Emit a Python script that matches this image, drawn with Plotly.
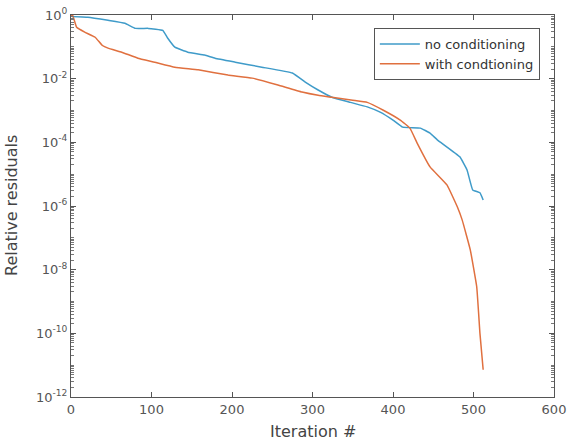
import plotly.graph_objects as go

# no conditioning
iter_blue = [0, 1, 21, 46, 67, 80, 96, 114, 120, 129, 145, 166, 179, 204, 237, 275, 291, 307, 324,
             347, 368, 384, 400, 412, 434, 446, 455, 483, 492, 499, 508, 512]
res_blue = [1.0, 0.91, 0.85, 0.68, 0.55, 0.38, 0.38, 0.33, 0.19, 0.098, 0.068, 0.055, 0.044, 0.033,
            0.023, 0.015, 0.0078, 0.0044, 0.0026, 0.0018, 0.0013, 8.9e-4, 5.0e-4, 3.0e-4, 2.8e-4,
            1.95e-4, 1.2e-4, 3.5e-5, 1.35e-5, 3.2e-6, 2.6e-6, 1.55e-6]

# with conditioning
iter_orange = [0, 2, 7, 17, 30, 39, 46, 63, 83, 104, 129, 158, 195, 225, 257, 287, 307, 324, 350,
               368, 388, 409, 421, 430, 446, 467, 480, 486, 496, 504, 508, 512]
res_orange = [1.0, 0.98, 0.41, 0.29, 0.2, 0.11, 0.091, 0.068, 0.044, 0.033, 0.023, 0.019, 0.013,
              0.0104, 0.0063, 0.0038, 0.0030, 0.0026, 0.0021, 0.0018, 0.00102, 5.0e-4, 2.8e-4,
              9.5e-5, 1.7e-5, 4.6e-6, 9.3e-7, 3.6e-7, 4.2e-8, 2.9e-9, 1.0e-10, 7.2e-12]

x_ticks = [0, 100, 200, 300, 400, 500, 600]
y_tick_vals = [1e0, 1e-2, 1e-4, 1e-6, 1e-8, 1e-10, 1e-12]
y_tick_text = ["10<sup>0</sup>", "10<sup>-2</sup>", "10<sup>-4</sup>", "10<sup>-6</sup>",
               "10<sup>-8</sup>", "10<sup>-10</sup>", "10<sup>-12</sup>"]

fig = go.Figure()
fig.add_trace(go.Scatter(x=iter_blue, y=res_blue, mode="lines", name="no conditioning",
                         line=dict(color="#3f9bc9", width=1.5, shape="spline", smoothing=0.3)))
fig.add_trace(go.Scatter(x=iter_orange, y=res_orange, mode="lines", name="with condtioning",
                         line=dict(color="#e0703f", width=1.5, shape="spline", smoothing=0.3)))

axis_common = dict(showline=True, linecolor="#555555", linewidth=1.2, mirror="allticks",
                   ticks="inside", tickcolor="#555555", showgrid=False, zeroline=False,
                   automargin=False,
                   tickfont=dict(family="DejaVu Sans", size=13, color="#555555"))

fig.update_xaxes(range=[0, 600], tickvals=x_ticks, ticklen=5, **axis_common)
fig.update_yaxes(type="log", range=[-12, 0], tickvals=y_tick_vals, ticktext=y_tick_text, ticklen=5,
                 minor=dict(ticks="inside", ticklen=3, tickcolor="#777777", dtick="D1"),
                 **axis_common)

title_font = dict(family="DejaVu Sans", size=16, color="#444444")
fig.add_annotation(text="Iteration #", xref="paper", yref="paper", x=0.5, y=0,
                   xanchor="center", yanchor="middle", yshift=-34, showarrow=False, font=title_font)
fig.add_annotation(text="Relative residuals", xref="paper", yref="paper", x=0, y=0.5,
                   xanchor="center", yanchor="middle", xshift=-60, textangle=-90,
                   showarrow=False, font=title_font)

fig.update_layout(
    width=568, height=442,
    margin=dict(l=71, r=14, t=15, b=45),
    paper_bgcolor="white", plot_bgcolor="white",
    showlegend=True,
    legend=dict(x=0.627, y=0.966, xanchor="left", yanchor="top",
                bgcolor="white", bordercolor="#555555", borderwidth=1,
                font=dict(family="DejaVu Sans", size=13, color="#333333"),
                tracegroupgap=0, itemwidth=40),
)

fig.write_html("out.html", config={"displayModeBar": False},
               post_script="document.body.style.margin='0';document.body.style.overflow='hidden';")
